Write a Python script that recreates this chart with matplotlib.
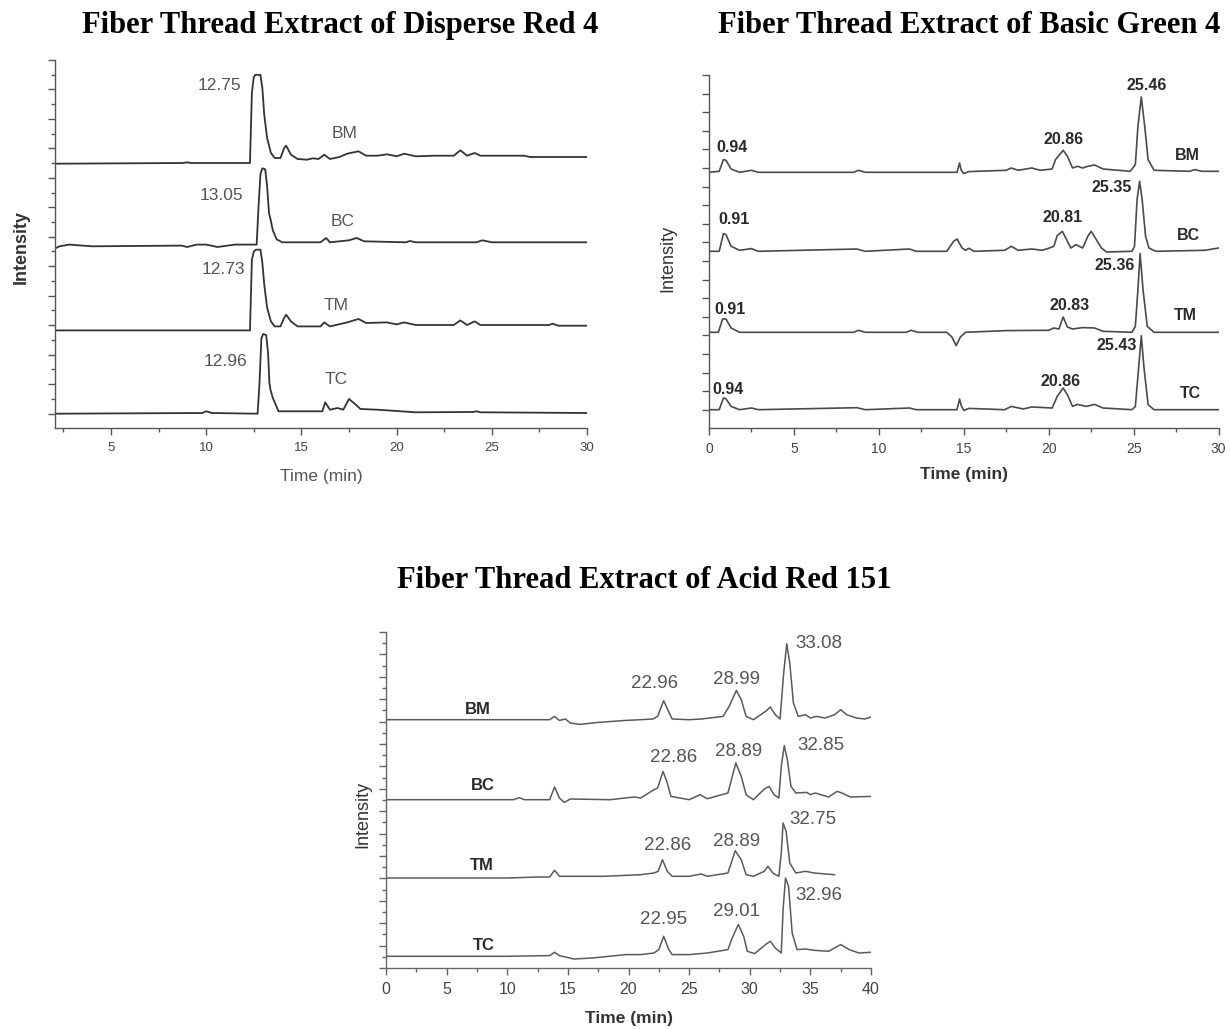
import matplotlib
matplotlib.use("Agg")
import matplotlib.pyplot as plt
import numpy as np

W, H = 1230, 1029
SANS = ["Liberation Sans", "DejaVu Sans"]
SERIF = ["Liberation Serif", "DejaVu Serif"]

# ---------------- DATA ----------------
samples = ["BM", "BC", "TM", "TC"]

# Panel 1: Disperse Red 4  (time in min, signal in arbitrary units above each trace baseline)
dr4_title = "Fiber Thread Extract of Disperse Red 4"
dr4_BM_t = [2.0, 8.8, 9.0, 9.2, 12.3, 12.4, 12.5, 12.6, 12.85, 12.95, 13.05, 13.2, 13.4, 13.6, 13.9, 14.1, 14.2, 14.45,
            14.8, 15.3, 15.6, 15.9, 16.2, 16.5, 17.0, 17.4, 18.0, 18.4, 19.0, 19.5, 20.0, 20.4, 21.0, 22.0, 23.0,
            23.35, 23.7, 24.1, 24.4, 26.7, 27.0, 30.0]
dr4_BM_y = [-0.7, 0, 0.7, 0, 0, 70, 86, 88.3, 88, 75, 48, 25, 10, 5, 5, 15, 17.3, 8.3,
            4, 3.3, 4.7, 4, 8.3, 4, 6, 9.3, 11.7, 7.3, 7.3, 8.7, 6.7, 9.3, 6.7, 7.3, 7.3,
            12.7, 7.3, 10, 7.3, 7.3, 6, 6]
dr4_BC_t = [2.0, 2.3, 2.8, 4.0, 8.7, 9.0, 9.5, 10.0, 10.6, 11.5, 12.65, 12.75, 12.85, 12.95, 13.1, 13.2, 13.3, 13.38,
            13.5, 13.7, 14.0, 15.0, 16.0, 16.3, 16.5, 17.5, 17.9, 18.3, 20.5, 20.7, 21.0, 24.2, 24.5, 25.0, 30.0]
dr4_BC_y = [-2.7, 0, 1.7, 0, 0.7, -0.7, 1.7, 1.7, -0.7, 1.7, 1.7, 40, 72, 78, 77, 60, 33, 27,
            16, 7, 4, 4, 4, 8.3, 4, 6, 8.3, 5, 4, 5.3, 4, 4, 6, 4, 4]
dr4_TM_t = [2.0, 12.3, 12.4, 12.5, 12.6, 12.85, 12.95, 13.05, 13.2, 13.4, 13.6, 13.9, 14.1, 14.2, 14.45, 14.8, 16.0,
            16.2, 16.5, 17.4, 18.0, 18.4, 19.5, 20.0, 20.4, 21.0, 23.0, 23.35, 23.7, 24.1, 24.4, 28.0, 28.2, 28.5, 30.0]
dr4_TM_y = [-0.7, -0.7, 70, 78, 80, 80, 67, 45, 22, 8.3, 3.3, 3.3, 12, 15, 8.3, 3.3, 3.3,
            7.3, 3.3, 7.3, 10.7, 6.7, 7.3, 5.3, 7.3, 4.7, 4.7, 9.3, 4.7, 8.3, 4.7, 4.7, 6, 4, 4]
dr4_TC_t = [2.0, 9.8, 10.0, 10.3, 12.7, 12.8, 12.9, 13.0, 13.15, 13.25, 13.32, 13.38, 13.5, 13.8, 16.1, 16.25, 16.5,
            16.9, 17.2, 17.5, 17.8, 18.1, 19.0, 21.0, 24.0, 24.2, 24.4, 30.0]
dr4_TC_y = [-0.7, 0, 1.7, 0, -0.7, 30, 75, 79, 78, 60, 30, 23, 15, 1.7, 1.7, 10.7, 3.3,
            5, 3.3, 14, 9.3, 4, 3.3, 0.7, 1, 1.7, 0.7, 0]
dr4_peaks = ["12.75", "13.05", "12.73", "12.96"]

# Panel 2: Basic Green 4
bg4_title = "Fiber Thread Extract of Basic Green 4"
bg4_BM_t = [0, 0.6, 0.85, 1.0, 1.3, 1.8, 2.5, 2.9, 8.5, 8.8, 9.2, 14.6, 14.75, 14.85, 15.0, 15.3, 17.5, 17.8, 18.2,
            19.0, 19.5, 20.2, 20.4, 20.85, 21.1, 21.4, 21.7, 22.0, 22.3, 22.7, 23.2, 24.8, 25.1, 25.25, 25.45, 25.65,
            25.85, 26.2, 28.3, 28.6, 29.0, 30.0]
bg4_BM_y = [0, 1, 12.7, 12, 3.3, 0, 2, 0, 0, 2, 0, 0, 9.3, 2, -1.3, 0.7, 2, 4.3, 2,
            4.3, 2, 3.3, 12.7, 22, 16, 4.3, 6, 4.3, 6, 7.3, 3.3, 1, 7.7, 46, 75.3, 46,
            12.7, 2, 1, 2.7, 1, 1]
bg4_BC_t = [0, 0.6, 0.85, 1.0, 1.3, 1.8, 2.5, 2.9, 8.7, 9.2, 11.8, 12.2, 14.0, 14.4, 14.6, 14.9, 15.1, 15.3, 15.6,
            17.4, 17.8, 18.2, 19.0, 19.6, 20.0, 20.3, 20.5, 20.8, 21.1, 21.3, 21.6, 22.0, 22.3, 22.5, 22.8, 23.1,
            23.4, 24.9, 25.05, 25.2, 25.35, 25.5, 25.7, 25.9, 26.3, 29.2, 30.0]
bg4_BC_y = [0, 0, 17.7, 16.7, 5, 1, 2.7, 0, 2.3, 0, 2.3, 0, 0, 10, 12.3, 3.3, 1, 3, 0,
            1, 5, 1, 2.3, 1, 3, 5, 15.7, 20, 10, 3.3, 6.7, 3.3, 15, 20, 11.7, 3.3,
            -0.7, 0, 5, 51.7, 70, 51.7, 15, 3.3, 0, 1, 3.3]
bg4_TM_t = [0, 0.55, 0.8, 1.0, 1.3, 1.8, 8.5, 8.8, 9.2, 11.6, 11.9, 12.3, 14.0, 14.3, 14.55, 14.8, 15.1, 17.5,
            20.0, 20.3, 20.6, 20.85, 21.1, 21.4, 22.0, 22.7, 23.2, 24.9, 25.1, 25.25, 25.38, 25.55, 25.8, 26.2, 30.0]
bg4_TM_y = [0, 0, 13.3, 13.3, 4.3, 0, 0, 2, 0, 0, 2, 0, 0, -4.7, -13.3, -4.7, 0, 1.7,
            2, 4.3, 3.3, 15.3, 5.3, 3.3, 4.7, 4.3, 1, 0, 6, 42.7, 78.7, 42.7, 6, 0, 0]
bg4_TC_t = [0, 0.6, 0.85, 1.0, 1.3, 1.8, 2.5, 2.9, 8.7, 9.2, 11.8, 12.2, 14.6, 14.75, 14.85, 15.0, 15.3, 17.4,
            17.8, 18.5, 19.0, 20.2, 20.5, 20.85, 21.1, 21.4, 21.7, 22.2, 22.7, 23.2, 24.9, 25.1, 25.3, 25.45, 25.6,
            25.85, 26.2, 30.0]
bg4_TC_y = [0, 0, 11.7, 11, 3.3, 0, 1.7, 0, 2, 0, 1.7, 0, 0, 10.7, 4, -0.7, 1.3, 0,
            3.3, 0.7, 2.7, 1.7, 13.3, 21.7, 15, 3.3, 5.3, 3.3, 5.3, 1.7, 0, 3.3, 43.3, 74, 43.3,
            5, 0, 0]
bg4_peaks = [["0.94", "20.86", "25.46"], ["0.91", "20.81", "25.35"],
             ["0.91", "20.83", "25.36"], ["0.94", "20.86", "25.43"]]

# Panel 3: Acid Red 151
ar151_title = "Fiber Thread Extract of Acid Red 151"
ar_BM_t = [0, 13.5, 13.9, 14.3, 14.8, 15.2, 16.0, 17.5, 19.8, 21.0, 22.0, 22.4, 22.9, 23.3, 23.6, 25.0, 26.0, 27.8,
           28.3, 28.9, 29.3, 29.7, 30.3, 31.3, 31.7, 32.1, 32.5, 32.8, 33.05, 33.3, 33.6, 34.0, 34.6, 35.0, 35.5,
           36.2, 37.0, 37.5, 38.0, 38.8, 39.5, 40.0]
ar_BM_y = [0, 0, 3.3, -0.7, 0.7, -3.3, -4.7, -2.7, -0.7, 0, 0.7, 3.3, 19, 8.3, 0.7, 0, 0.7, 3.3,
           13.3, 29.3, 20, 3.3, 0, 8.3, 12.7, 5, 0.7, 46.7, 76, 56.7, 16.7, 3.3, 5, 1.7, 3.3,
           1.7, 5, 10, 5, 1.7, 0.7, 2.7]
ar_BC_t = [0, 10.5, 11.0, 11.4, 13.5, 13.9, 14.3, 14.7, 15.2, 18.5, 19.7, 20.5, 21.0, 22.1, 22.4, 22.85, 23.2, 23.5,
           25.0, 25.9, 26.5, 28.2, 28.85, 29.3, 29.7, 30.3, 31.2, 31.6, 32.0, 32.4, 32.6, 32.85, 33.1, 33.4, 33.8,
           34.7, 35.0, 35.4, 36.5, 37.2, 37.6, 38.3, 40.0]
ar_BC_y = [0, 0, 2, 0, 0, 12.7, 1.7, -2.7, 0.7, 0, 1.7, 2.7, 1.7, 10, 11.7, 28.3, 16.7, 3.3,
           0, 5, 1, 6.7, 36.7, 23.3, 5, 0, 10.7, 13.3, 5, 1.7, 33.3, 54, 40, 13.3, 6.7,
           7.3, 5, 6.7, 2.7, 8.3, 6.7, 2.7, 3.3]
ar_TM_t = [0, 10.0, 12.5, 13.5, 13.9, 14.3, 18.0, 21.0, 22.1, 22.45, 22.8, 23.2, 23.6, 25.0, 26.0, 26.5, 28.2, 28.8,
           29.3, 29.7, 30.3, 31.2, 31.5, 31.9, 32.4, 32.6, 32.75, 33.0, 33.3, 33.8, 34.6, 35.3, 37.0]
ar_TM_y = [0, 0, 1, 1, 7.7, 1.7, 1.7, 3.3, 5, 6.7, 18.3, 6.7, 1.7, 1.7, 4, 1.7, 5, 27.3,
           18.3, 3.3, 1.7, 6.7, 11.7, 5, 1.7, 25, 55, 46.7, 15, 5, 6.7, 5, 3.3]
ar_TC_t = [0, 10.0, 13.5, 13.9, 14.3, 14.8, 15.5, 17.0, 19.8, 21.0, 22.1, 22.5, 22.9, 23.3, 23.6, 25.0, 26.5, 28.2,
           28.5, 29.05, 29.5, 29.8, 30.4, 31.3, 31.7, 32.1, 32.6, 32.75, 32.95, 33.2, 33.5, 33.9, 34.6, 35.3, 36.5,
           37.5, 38.2, 39.0, 40.0]
ar_TC_y = [0, 0, 0.7, 4, 0.7, -0.7, -2.7, -1.7, 1.7, 1.7, 3.3, 6.7, 20, 7.3, 1.7, 1.7, 3.3, 6.7,
           16.7, 31.7, 20, 5, 2.7, 11.7, 15, 8.3, 3.3, 46.7, 78.3, 70, 23.3, 6.7, 7.3, 6, 5,
           11.7, 6.7, 3.3, 4]
ar_peaks = [["22.96", "28.99", "33.08"], ["22.86", "28.89", "32.85"],
            ["22.86", "28.89", "32.75"], ["22.95", "29.01", "32.96"]]

# ---------------- LAYOUT HELPERS ----------------
fig = plt.figure(figsize=(W / 100, H / 100), dpi=100)


def add_axes_px(left, right, top, bottom):
    return fig.add_axes([left / W, 1 - bottom / H, (right - left) / W, (bottom - top) / H])


def ftext(x, y, s, **kw):
    fig.text(x / W, 1 - y / H, s, **kw)


def style_axes(ax, xlim, ytop, yspace, minor_y, xlabsize, col):
    ax.set_xlim(*xlim)
    ax.set_ylim(0, ytop)
    for sp in ("top", "right"):
        ax.spines[sp].set_visible(False)
    for sp in ("left", "bottom"):
        ax.spines[sp].set_color(col)
        ax.spines[sp].set_linewidth(1.0)
    ax.set_xticks(np.arange(0, xlim[1] + 0.1, 5))
    ax.set_xticks(np.arange(2.5, xlim[1], 5), minor=True)
    if minor_y:
        major = np.arange(ytop, -0.01, -2 * yspace)
        minor = np.arange(ytop - yspace, -0.01, -2 * yspace)
    else:
        major = np.arange(ytop, -0.01, -yspace)
        minor = []
    ax.set_yticks(major)
    ax.set_yticks(minor, minor=True)
    ax.set_yticklabels([])
    ax.tick_params(axis="both", which="major", direction="out", length=5, width=1, color=col)
    ax.tick_params(axis="both", which="minor", direction="out", length=3, width=1, color=col)
    ax.tick_params(axis="x", labelsize=xlabsize, labelcolor="#444444", pad=5)
    for lab in ax.get_xticklabels():
        lab.set_family(SANS)
    ax.set_xticklabels([str(int(v)) for v in ax.get_xticks()])
    ax.set_xlim(*xlim)


# ---------------- PANEL 1 ----------------
ax1 = add_axes_px(55, 587, 60, 428)
offs1 = [265, 181.7, 98.3, 15]
traces1 = [(dr4_BM_t, dr4_BM_y), (dr4_BC_t, dr4_BC_y), (dr4_TM_t, dr4_TM_y), (dr4_TC_t, dr4_TC_y)]
for (t, y), off in zip(traces1, offs1):
    ax1.plot(t, np.array(y) + off, color="#333333", lw=1.3, solid_joinstyle="round")
style_axes(ax1, (2.06, 30), 368, 14.73, True, 9.5, "#555555")
lab1_pos = [(10.72, 343), (10.82, 233), (10.92, 158), (11.02, 67)]
name1_pos = [(17.25, 295), (17.15, 206), (16.85, 123), (16.85, 48)]
for s, (x, y) in zip(dr4_peaks, lab1_pos):
    ax1.text(x, y, s, ha="center", va="center", fontsize=12.5, color="#555555", family=SANS)
for s, (x, y) in zip(samples, name1_pos):
    ax1.text(x, y, s, ha="center", va="center", fontsize=12.5, color="#555555", family=SANS)
ftext(82, 33, dr4_title, ha="left", va="baseline", fontsize=22, fontweight="bold", family=SERIF, color="black")
ftext(321, 477, "Time (min)", ha="center", va="center", fontsize=12.5, color="#555555", family=SANS)
ftext(21, 247, "Intensity", ha="center", va="center", rotation=90, fontsize=13, fontweight="bold",
      color="#333333", family=SANS)

# ---------------- PANEL 2 ----------------
ax2 = add_axes_px(709, 1218.6, 75, 428)
offs2 = [255.7, 176.7, 95.7, 18.3]
traces2 = [(bg4_BM_t, bg4_BM_y), (bg4_BC_t, bg4_BC_y), (bg4_TM_t, bg4_TM_y), (bg4_TC_t, bg4_TC_y)]
for (t, y), off in zip(traces2, offs2):
    ax2.plot(t, np.array(y) + off, color="#4a4a4a", lw=1.2, solid_joinstyle="round")
style_axes(ax2, (0, 30), 353, 18.6, False, 10, "#555555")
lab2_pos = [[(1.35, 281), (20.9, 289), (25.77, 343)],
            [(1.46, 208), (20.8, 210), (23.68, 240)],
            [(1.26, 119), (21.2, 122), (23.86, 162)],
            [(1.13, 39), (20.7, 47), (24.0, 82)]]
name2_pos = [(28.15, 273), (28.2, 193), (28.04, 112), (28.37, 34)]
for labs, poss in zip(bg4_peaks, lab2_pos):
    for s, (x, y) in zip(labs, poss):
        ax2.text(x, y, s, ha="center", va="center", fontsize=11.5, fontweight="bold", color="#2a2a2a", family=SANS)
for s, (x, y) in zip(samples, name2_pos):
    ax2.text(x, y, s, ha="center", va="center", fontsize=11.5, fontweight="bold", color="#2a2a2a", family=SANS)
ftext(718, 33, bg4_title, ha="left", va="baseline", fontsize=22, fontweight="bold", family=SERIF, color="black")
ftext(964, 475, "Time (min)", ha="center", va="center", fontsize=12.5, fontweight="bold", color="#333333", family=SANS)
ftext(668, 258, "Intensity", ha="center", va="center", rotation=90, fontsize=13, color="#333333", family=SANS)

# ---------------- PANEL 3 ----------------
ax3 = add_axes_px(386, 871, 632, 968)
offs3 = [248.3, 168.3, 90, 11.7]
traces3 = [(ar_BM_t, ar_BM_y), (ar_BC_t, ar_BC_y), (ar_TM_t, ar_TM_y), (ar_TC_t, ar_TC_y)]
for (t, y), off in zip(traces3, offs3):
    ax3.plot(t, np.array(y) + off, color="#5a5a5a", lw=1.1, solid_joinstyle="round")
style_axes(ax3, (0, 40), 336, 11.2, True, 11.5, "#666666")
lab3_pos = [[(22.19, 284), (28.92, 288), (35.66, 325)],
            [(23.7, 210), (29.06, 217), (35.85, 222)],
            [(23.23, 122), (28.92, 126), (35.19, 148)],
            [(22.87, 48), (28.92, 57), (35.66, 72)]]
name3_pos = [(7.6, 259), (7.97, 182), (7.89, 102), (8.03, 22)]
for labs, poss in zip(ar_peaks, lab3_pos):
    for s, (x, y) in zip(labs, poss):
        ax3.text(x, y, s, ha="center", va="center", fontsize=13.5, color="#555555", family=SANS)
for s, (x, y) in zip(samples, name3_pos):
    ax3.text(x, y, s, ha="center", va="center", fontsize=12, fontweight="bold", color="#2a2a2a", family=SANS)
ftext(397, 588, ar151_title, ha="left", va="baseline", fontsize=22, fontweight="bold", family=SERIF, color="black")
ftext(629, 1018, "Time (min)", ha="center", va="center", fontsize=12.5, fontweight="bold", color="#333333", family=SANS)
ftext(363, 814, "Intensity", ha="center", va="center", rotation=90, fontsize=13, color="#333333", family=SANS)

fig.savefig("out.png", dpi=100, facecolor="white")
